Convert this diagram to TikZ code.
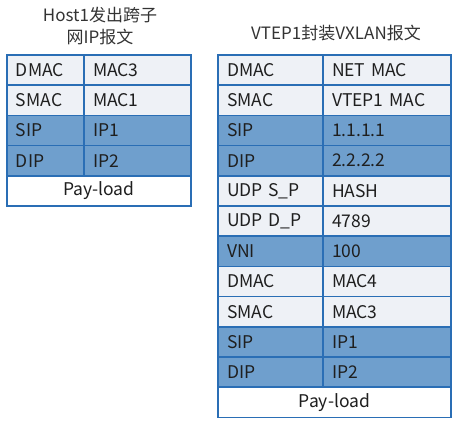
\documentclass[tikz,border=0pt]{standalone}
\usepackage{fontspec}
\setmainfont{Noto Sans CJK SC}
\usetikzlibrary{positioning}
\definecolor{cellline}{HTML}{2A6EB5}
\definecolor{celllight}{HTML}{EEF1F6}
\definecolor{celldark}{HTML}{6F9FCD}
\tikzset{
    cell/.style={draw=cellline, line width=1.6pt, outer sep=0pt, minimum height=30.2pt,
        inner xsep=9pt, inner ysep=0pt, align=left, font=\fontsize{17.5}{20}\selectfont, text=black!88},
    lightcell/.style={cell, fill=celllight},
    darkcell/.style={cell, fill=celldark},
    payload/.style={cell, fill=white, align=center},
    title/.style={align=center, font=\fontsize{17}{22}\selectfont, text=black!80}
}
\begin{document}
\begin{tikzpicture}[x=1pt, y=-1pt]
    \useasboundingbox (0,0) rectangle (462,431);

    % Host1 packet
    \node[title] (htitle) at (100,26) {Host1发出跨子\\网IP报文};
    \node[lightcell, text width=59pt, anchor=north west] (hdmac) at (7,55) {DMAC};
    \node[lightcell, text width=89pt, right=0pt of hdmac] (hdmacv) {MAC3};
    \node[lightcell, text width=59pt, below=0pt of hdmac] (hsmac) {SMAC};
    \node[lightcell, text width=89pt, right=0pt of hsmac] (hsmacv) {MAC1};
    \node[darkcell, text width=59pt, below=0pt of hsmac] (hsip) {SIP};
    \node[darkcell, text width=89pt, right=0pt of hsip] (hsipv) {IP1};
    \node[darkcell, text width=59pt, below=0pt of hsip] (hdip) {DIP};
    \node[darkcell, text width=89pt, right=0pt of hdip] (hdipv) {IP2};
    \node[payload, text width=166pt, anchor=north west] (hpay) at (hdip.south west) {Pay-load};

    % VTEP1 encapsulated packet
    \node[title] (vtitle) at (336,33) {VTEP1封装VXLAN报文};
    \node[lightcell, text width=87pt, anchor=north west] (vdmac) at (218,55) {DMAC};
    \node[lightcell, text width=110pt, right=0pt of vdmac] (vdmacv) {NET MAC};
    \node[lightcell, text width=87pt, below=0pt of vdmac] (vsmac) {SMAC};
    \node[lightcell, text width=110pt, right=0pt of vsmac] (vsmacv) {VTEP1 MAC};
    \node[darkcell, text width=87pt, below=0pt of vsmac] (vsip) {SIP};
    \node[darkcell, text width=110pt, right=0pt of vsip] (vsipv) {1.1.1.1};
    \node[darkcell, text width=87pt, below=0pt of vsip] (vdip) {DIP};
    \node[darkcell, text width=110pt, right=0pt of vdip] (vdipv) {2.2.2.2};
    \node[lightcell, text width=87pt, below=0pt of vdip] (vsport) {UDP S\_P};
    \node[lightcell, text width=110pt, right=0pt of vsport] (vsportv) {HASH};
    \node[lightcell, text width=87pt, below=0pt of vsport] (vdport) {UDP D\_P};
    \node[lightcell, text width=110pt, right=0pt of vdport] (vdportv) {4789};
    \node[darkcell, text width=87pt, below=0pt of vdport] (vvni) {VNI};
    \node[darkcell, text width=110pt, right=0pt of vvni] (vvniv) {100};
    \node[lightcell, text width=87pt, below=0pt of vvni] (vidmac) {DMAC};
    \node[lightcell, text width=110pt, right=0pt of vidmac] (vidmacv) {MAC4};
    \node[lightcell, text width=87pt, below=0pt of vidmac] (vismac) {SMAC};
    \node[lightcell, text width=110pt, right=0pt of vismac] (vismacv) {MAC3};
    \node[darkcell, text width=87pt, below=0pt of vismac] (visip) {SIP};
    \node[darkcell, text width=110pt, right=0pt of visip] (visipv) {IP1};
    \node[darkcell, text width=87pt, below=0pt of visip] (vidip) {DIP};
    \node[darkcell, text width=110pt, right=0pt of vidip] (vidipv) {IP2};
    \node[payload, text width=215pt, anchor=north west] (vpay) at (vidip.south west) {Pay-load};
\end{tikzpicture}
\end{document}
